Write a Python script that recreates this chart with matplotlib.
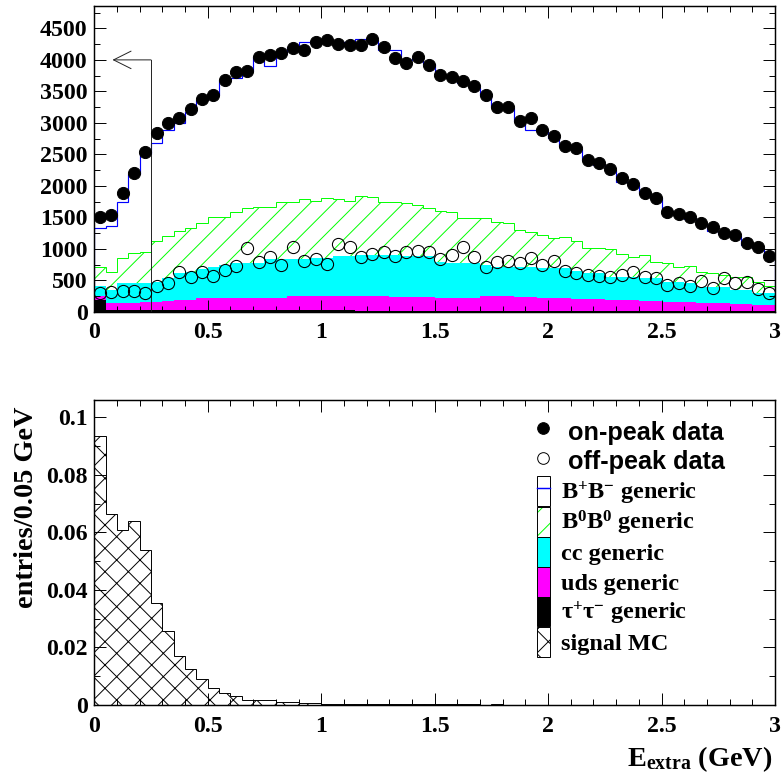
import numpy as np
import matplotlib
matplotlib.use("Agg")
import matplotlib.pyplot as plt
from matplotlib.patches import Patch
from matplotlib.lines import Line2D
from matplotlib.ticker import MultipleLocator, FuncFormatter

# --- data: E_extra, 60 bins of 0.05 GeV ---
edges = np.linspace(0.0, 3.0, 61)
centers = 0.5 * (edges[:-1] + edges[1:])

on_peak = [1510, 1537, 1892, 2210, 2540, 2846, 2995, 3075, 3222, 3377,
           3440, 3673, 3800, 3831, 4044, 4070, 4108, 4188, 4150, 4283,
           4309, 4250, 4230, 4235, 4330, 4197, 4028, 3949, 4044, 3922,
           3763, 3736, 3668, 3593, 3445, 3259, 3259, 3032, 3084, 2889,
           2793, 2639, 2598, 2412, 2359, 2264, 2130, 2025, 1892, 1803,
           1590, 1553, 1500, 1415, 1341, 1246, 1219, 1087, 1023, 885]

off_peak = [292, 318, 334, 334, 302, 413, 461, 636, 547, 630,
            575, 660, 731, 1008, 790, 870, 742, 1024, 811, 833,
            754, 1071, 1024, 874, 917, 954, 886, 954, 970, 954,
            833, 901, 1034, 874, 715, 795, 811, 769, 849, 742,
            811, 652, 620, 583, 567, 547, 583, 636, 556, 531,
            424, 451, 409, 488, 372, 531, 451, 477, 356, 292]

# stacked MC levels (top of each component)
bpm_top = [1326, 1362, 1749, 2189, 2506, 2687, 2889, 3000, 3180, 3366,
           3440, 3680, 3711, 3830, 4044, 3906, 4108, 4200, 4283, 4270,
           4283, 4283, 4283, 4325, 4310, 4150, 4150, 4002, 4030, 3930,
           3770, 3720, 3640, 3560, 3440, 3259, 3240, 3030, 2889, 2880,
           2760, 2640, 2580, 2410, 2330, 2250, 2060, 2010, 1890, 1800,
           1600, 1550, 1480, 1400, 1290, 1230, 1200, 1060, 1010, 880]

b0_top = [706, 626, 859, 938, 954, 1129, 1208, 1283, 1326, 1405,
          1500, 1510, 1580, 1644, 1660, 1660, 1749, 1738, 1787, 1765,
          1803, 1792, 1760, 1840, 1818, 1749, 1749, 1723, 1696, 1644,
          1606, 1590, 1485, 1490, 1485, 1431, 1415, 1299, 1262, 1219,
          1167, 1183, 1129, 1008, 1008, 992, 917, 874, 901, 795,
          769, 715, 720, 636, 620, 583, 556, 556, 477, 409]

cc_top = [409, 345, 451, 451, 451, 477, 531, 610, 636, 674,
          715, 742, 769, 769, 775, 833, 833, 833, 833, 849,
          849, 880, 880, 901, 901, 901, 895, 890, 885, 880,
          795, 769, 769, 769, 740, 715, 715, 715, 715, 700,
          689, 689, 640, 620, 610, 556, 556, 556, 540, 530,
          477, 477, 460, 398, 398, 390, 345, 345, 300, 292]

uds_top = [254, 133, 133, 140, 150, 159, 165, 186, 186, 213,
           213, 213, 213, 213, 213, 213, 213, 245, 245, 245,
           245, 245, 245, 245, 245, 245, 235, 230, 230, 230,
           225, 215, 215, 215, 245, 250, 245, 240, 230, 215,
           215, 210, 205, 200, 195, 186, 186, 180, 170, 165,
           159, 159, 150, 140, 133, 133, 125, 120, 110, 106]

tau_top = [186, 35, 32, 30, 30, 28, 28, 26, 25, 25,
           24, 24, 22, 22, 22, 20, 20, 20, 20, 20,
           20, 20, 20, 18, 18, 18, 18, 18, 18, 18,
           16, 16, 16, 16, 16, 16, 15, 15, 15, 15,
           15, 15, 14, 14, 14, 14, 14, 13, 13, 13,
           12, 12, 12, 12, 11, 11, 11, 10, 10, 10]

signal_mc = [0.0936, 0.0664, 0.0609, 0.0638, 0.0539, 0.0356, 0.0257, 0.0170, 0.0124, 0.0090,
             0.0058, 0.0041, 0.0031, 0.0017, 0.0017, 0.0019, 0.0012, 0.0010, 0.0008, 0.0006,
             0.0005, 0.0004, 0.0004, 0.0005, 0.0003, 0.0004, 0.0003, 0.0003, 0.0002, 0.0003,
             0.0002, 0.0002, 0.0002, 0.0002, 0.0001, 0.0002, 0.0001, 0.0001, 0.0001, 0.0001,
             0.0001, 0.0001, 0.0001, 0.0, 0.0001, 0.0, 0.0, 0.0, 0.0, 0.0,
             0.0, 0.0, 0.0, 0.0, 0.0, 0.0, 0.0, 0.0, 0.0, 0.0]

cut_x = 0.25        # signal region E_extra < 0.25 GeV
cut_y = 4000
arrow_tip = 0.08

# --- style ---
DPI = 70
plt.rcParams["font.family"] = "Liberation Serif"
plt.rcParams["font.weight"] = "bold"
plt.rcParams["axes.labelweight"] = "bold"
plt.rcParams["mathtext.fontset"] = "custom"
plt.rcParams["mathtext.rm"] = "Liberation Serif:bold"
plt.rcParams["mathtext.it"] = "Liberation Serif:bold"
plt.rcParams["mathtext.bf"] = "Liberation Serif:bold"
plt.rcParams["mathtext.default"] = "rm"
plt.rcParams["hatch.linewidth"] = 1.0

fig = plt.figure(figsize=(784 / DPI, 776 / DPI), dpi=DPI)
ax1 = fig.add_axes([0.1203, 0.5983, 0.8682, 0.3943])
ax2 = fig.add_axes([0.1203, 0.0915, 0.8682, 0.3930])

fmt = FuncFormatter(lambda v, p: "%g" % v)


def style_axes(ax, ymax, ymaj, ymin):
    ax.set_xlim(0, 3)
    ax.set_ylim(0, ymax)
    ax.xaxis.set_major_locator(MultipleLocator(0.5))
    ax.xaxis.set_minor_locator(MultipleLocator(0.1))
    ax.yaxis.set_major_locator(MultipleLocator(ymaj))
    ax.yaxis.set_minor_locator(MultipleLocator(ymin))
    ax.xaxis.set_major_formatter(fmt)
    ax.yaxis.set_major_formatter(fmt)
    ax.tick_params(which="both", direction="in", top=True, right=True, width=1)
    ax.tick_params(which="major", length=12)
    ax.tick_params(which="minor", length=6)
    ax.tick_params(axis="x", labelsize=24.5, pad=11)
    ax.tick_params(axis="y", labelsize=24.5, pad=7)
    for s in ax.spines.values():
        s.set_linewidth(1.5)


# --- top panel: data vs stacked MC ---
ax1.stairs(bpm_top, edges, fill=False, color="#0000ff", lw=1.2)
ax1.stairs(b0_top, edges, fill=False, hatch="/", edgecolor="#00ff00", lw=1.0)
ax1.stairs(cc_top, edges, fill=True, color="#00ffff", lw=0)
ax1.stairs(uds_top, edges, fill=True, color="#ff00ff", lw=0)
ax1.stairs(tau_top, edges, fill=True, color="black", lw=0)

ax1.plot([cut_x, cut_x], [0, cut_y], color="#222222", lw=1)
ax1.annotate("", xy=(arrow_tip, cut_y), xytext=(cut_x, cut_y),
             arrowprops=dict(arrowstyle="->,head_length=0.9,head_width=0.45",
                             color="#222222", lw=1, mutation_scale=20,
                             shrinkA=0, shrinkB=0))

ax1.plot(centers, off_peak, "o", ms=12.5, mfc="none", mec="black", mew=1.1)
ax1.plot(centers, on_peak, "o", ms=12.5, color="black")
style_axes(ax1, 4860, 500, 250)

# --- bottom panel: signal MC shape ---
ax2.stairs(signal_mc, edges, fill=False, hatch="x", edgecolor="black", lw=1.0)
style_axes(ax2, 0.106, 0.02, 0.01)
ax2.set_ylabel("entries/0.05 GeV", fontsize=29)
ax2.yaxis.set_label_coords(-0.081, 0.648)
fig.text(0.985, 1 - 766 / 776, r"$\mathbf{E}_{\mathbf{extra}}$ (GeV)", fontsize=29,
         ha="right", va="baseline")

handles = [
    Line2D([], [], ls="none", marker="o", ms=12, color="black"),
    Line2D([], [], ls="none", marker="o", ms=12, mfc="none", mec="black"),
    (Patch(fc="white", ec="black", lw=1), Line2D([], [], color="#0000ff", lw=1.5)),
    (Patch(fc="white", ec="#00ff00", hatch="/", lw=0), Patch(fill=False, ec="black", lw=1)),
    Patch(fc="#00ffff", ec="black", lw=1),
    Patch(fc="#ff00ff", ec="black", lw=1),
    Patch(fc="black", ec="black", lw=1),
    Patch(fc="white", ec="black", hatch="x", lw=1),
]
labels = [" on-peak data", " off-peak data",
          r"B$^{+}$B$^{-}$ generic", r"B$^{0}$B$^{0}$ generic",
          "cc generic", "uds generic", r"$\tau^{+}\tau^{-}$ generic", "signal MC"]
leg = ax2.legend(handles, labels, loc="upper left", bbox_to_anchor=(0.65, 0.945),
                 frameon=False, fontsize=25, handlelength=0.55, handleheight=1.5,
                 labelspacing=0.0, handletextpad=0.45, borderpad=0, borderaxespad=0)
for t in leg.get_texts()[:2]:
    t.set_fontfamily("Liberation Sans")
    t.set_fontweight("bold")
    t.set_fontsize(26)

fig.savefig("out.png", dpi=DPI)
